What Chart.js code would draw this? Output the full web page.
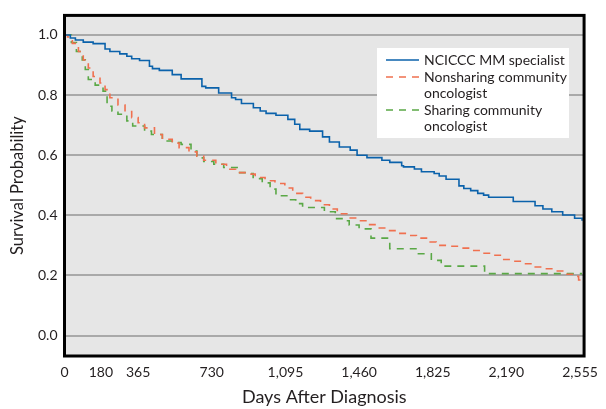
<!DOCTYPE html>
<html>
<head>
<meta charset="utf-8">
<script src="https://cdn.jsdelivr.net/npm/chart.js@4.4.0/dist/chart.umd.min.js"></script>
<style>
  html, body { margin: 0; padding: 0; background: #fff; }
  #wrap { width: 606px; height: 409px; }
</style>
</head>
<body>
<div id="wrap"><canvas id="myChart" width="606" height="409"></canvas></div>
<script>
// Kaplan-Meier curves, days after diagnosis vs survival probability
const seriesNames = [
  ["NCICCC MM specialist"],
  ["Nonsharing community", "oncologist"],
  ["Sharing community", "oncologist"],
];

const blueDays = [0, 29, 54, 93, 142, 201, 225, 274, 309, 333, 372, 421, 436, 470, 534, 578, 681, 700, 764, 828, 848, 877, 936, 970, 999, 1048, 1107, 1141, 1166, 1215, 1279, 1313, 1362, 1416, 1450, 1499, 1573, 1612, 1671, 1680, 1734, 1769, 1832, 1857, 1891, 1955, 1979, 2013, 2048, 2077, 2102, 2224, 2332, 2371, 2415, 2469, 2528, 2565];
const blueSurv = [1.0, 0.99, 0.983, 0.976, 0.971, 0.953, 0.945, 0.937, 0.929, 0.921, 0.915, 0.896, 0.888, 0.882, 0.868, 0.854, 0.829, 0.824, 0.807, 0.791, 0.785, 0.772, 0.758, 0.747, 0.739, 0.733, 0.719, 0.703, 0.686, 0.680, 0.661, 0.644, 0.627, 0.617, 0.600, 0.592, 0.583, 0.576, 0.565, 0.561, 0.554, 0.545, 0.539, 0.531, 0.520, 0.498, 0.489, 0.482, 0.473, 0.467, 0.460, 0.446, 0.432, 0.421, 0.412, 0.401, 0.390, 0.382];

const redDays = [0, 15, 39, 69, 93, 118, 142, 176, 201, 225, 265, 300, 333, 365, 397, 446, 485, 534, 568, 617, 656, 690, 750, 803, 848, 901, 945, 994, 1043, 1092, 1131, 1180, 1220, 1269, 1313, 1352, 1411, 1460, 1499, 1548, 1607, 1646, 1695, 1744, 1798, 1842, 1906, 1965, 2014, 2063, 2117, 2166, 2225, 2274, 2323, 2381, 2435, 2479, 2528, 2548, 2565];
const redSurv = [1.0, 0.993, 0.972, 0.945, 0.917, 0.890, 0.862, 0.840, 0.818, 0.791, 0.767, 0.745, 0.725, 0.708, 0.691, 0.669, 0.653, 0.640, 0.625, 0.611, 0.597, 0.583, 0.570, 0.553, 0.542, 0.537, 0.526, 0.515, 0.506, 0.491, 0.473, 0.460, 0.449, 0.435, 0.421, 0.405, 0.391, 0.382, 0.369, 0.358, 0.349, 0.340, 0.333, 0.324, 0.311, 0.300, 0.297, 0.291, 0.283, 0.274, 0.267, 0.253, 0.247, 0.239, 0.228, 0.222, 0.215, 0.204, 0.197, 0.185, 0.185];

const greenDays = [0, 34, 59, 88, 103, 118, 152, 191, 211, 235, 265, 309, 338, 397, 431, 485, 534, 578, 627, 656, 690, 740, 789, 862, 901, 935, 980, 1019, 1048, 1107, 1146, 1180, 1288, 1342, 1381, 1411, 1460, 1519, 1612, 1754, 1818, 1867, 2082, 2565];
const greenSurv = [1.0, 0.975, 0.945, 0.917, 0.885, 0.852, 0.833, 0.813, 0.763, 0.747, 0.736, 0.714, 0.697, 0.680, 0.669, 0.647, 0.642, 0.636, 0.614, 0.591, 0.579, 0.570, 0.559, 0.542, 0.539, 0.522, 0.508, 0.487, 0.465, 0.452, 0.439, 0.426, 0.412, 0.389, 0.382, 0.368, 0.355, 0.324, 0.289, 0.272, 0.250, 0.231, 0.206, 0.206];

const xTicks = [0, 180, 365, 730, 1095, 1460, 1825, 2190, 2555];
const yTicks = [0, 0.2, 0.4, 0.6, 0.8, 1.0];

const colors = ["#0b62ab", "#f0704f", "#5aa846"];
const dashes = [[], [7, 6], [7, 6]];
const fontFam = "Lato, 'Noto Sans', sans-serif";
const textColor = "#231f20";

function pts(days, surv) {
  return days.map((d, i) => ({ x: d, y: surv[i] }));
}

const frame = {
  id: "frame",
  beforeDraw(chart) {
    const { ctx, chartArea: a } = chart;
    ctx.save();
    ctx.fillStyle = "#e6e6e6";
    ctx.fillRect(a.left, a.top, a.right - a.left, a.bottom - a.top);
    ctx.restore();
  },
  afterDatasetsDraw(chart) {
    // legend box with wrapped labels
    const ctx = chart.ctx;
    ctx.save();
    ctx.fillStyle = "#fff";
    ctx.fillRect(377, 48, 192, 90);
    ctx.font = "14px " + fontFam;
    ctx.textBaseline = "middle";
    ctx.fillStyle = textColor;
    let y = 60;
    seriesNames.forEach((lines, i) => {
      ctx.strokeStyle = colors[i];
      ctx.lineWidth = 1.5;
      ctx.setLineDash(dashes[i]);
      ctx.beginPath();
      ctx.moveTo(386, y);
      ctx.lineTo(419, y);
      ctx.stroke();
      ctx.setLineDash([]);
      lines.forEach((t, j) => {
        ctx.fillText(t, 424, y + j * 16);
      });
      y += lines.length * 16 + 1;
    });
    ctx.restore();
  },
  afterDraw(chart) {
    const { ctx, chartArea: a } = chart;
    ctx.save();
    ctx.strokeStyle = "#000";
    ctx.lineWidth = 3;
    ctx.strokeRect(a.left, a.top, a.right - a.left, a.bottom - a.top);
    ctx.restore();
  },
};

const ctx = document.getElementById("myChart");
const chart = new Chart(ctx, {
  type: "line",
  data: {
    datasets: [
      { label: seriesNames[0].join(" "), data: pts(blueDays, blueSurv) },
      { label: seriesNames[1].join(" "), data: pts(redDays, redSurv) },
      { label: seriesNames[2].join(" "), data: pts(greenDays, greenSurv) },
    ].map((ds, i) => ({
      ...ds,
      borderColor: colors[i],
      borderWidth: 1.6,
      borderDash: dashes[i],
      stepped: true,
      pointRadius: 0,
      fill: false,
    })),
  },
  options: {
    responsive: false,
    animation: false,
    layout: { padding: { top: 14, right: 16.5, left: 0, bottom: 0 } },
    plugins: { legend: { display: false }, tooltip: { enabled: false } },
    scales: {
      x: {
        type: "linear",
        min: 0,
        max: 2575,
        afterBuildTicks: (s) => { s.ticks = xTicks.map((v) => ({ value: v })); },
        afterFit: (s) => { s.height = 53; },
        grid: { display: false, drawTicks: false },
        border: { display: false },
        ticks: {
          padding: 8,
          maxRotation: 0,
          autoSkip: false,
          color: textColor,
          font: { family: fontFam, size: 14 },
          callback: (v) => v.toLocaleString("en-US"),
        },
        title: {
          display: true,
          text: "Days After Diagnosis",
          color: textColor,
          font: { family: fontFam, size: 18 },
          padding: { top: 0, bottom: 1 },
        },
      },
      y: {
        min: -0.068,
        max: 1.065,
        afterBuildTicks: (s) => { s.ticks = yTicks.map((v) => ({ value: v })); },
        afterFit: (s) => { s.width = 64.5; },
        grid: { color: "#a9a9a9", lineWidth: 2, drawTicks: false },
        border: { display: false },
        ticks: {
          padding: 7,
          color: textColor,
          font: { family: fontFam, size: 14 },
          callback: (v) => v.toFixed(1),
        },
        title: {
          display: true,
          text: "Survival Probability",
          color: textColor,
          font: { family: fontFam, size: 16.5 },
          padding: { top: 8, bottom: 0 },
        },
      },
    },
  },
  plugins: [frame],
});
</script>
</body>
</html>
